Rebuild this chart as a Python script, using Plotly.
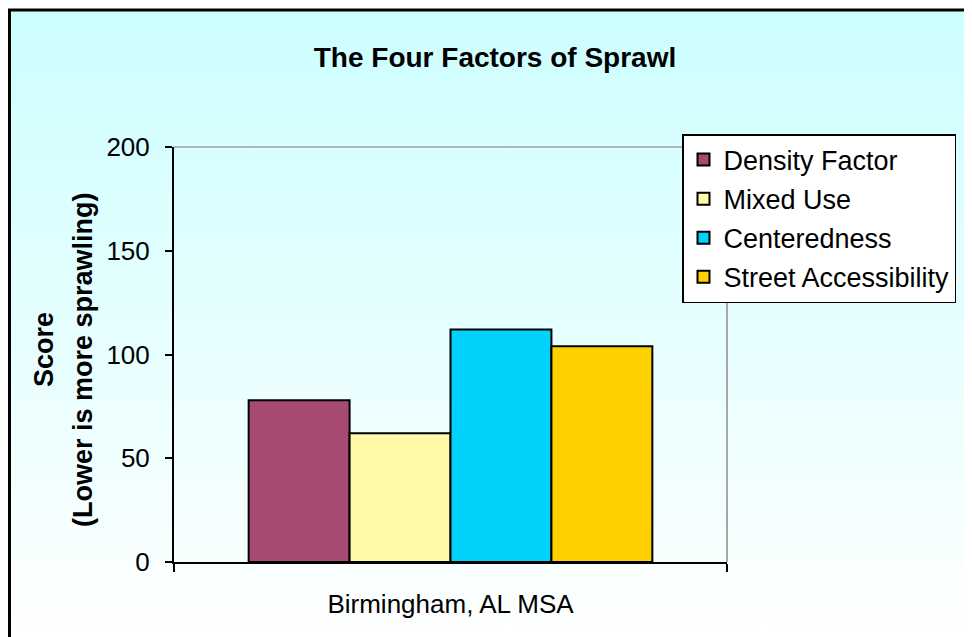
import base64
import plotly.graph_objects as go

# ---- data ----
categories = ["Birmingham, AL MSA"]
series_names = ["Density Factor", "Mixed Use", "Centeredness", "Street Accessibility"]
density_factor = [78]
mixed_use = [62]
centeredness = [112]
street_accessibility = [104]
y_ticks = [0, 50, 100, 150, 200]

series_values = [density_factor, mixed_use, centeredness, street_accessibility]
colors = ["#a64a74", "#fffaa6", "#00d2fc", "#ffd000"]

# the page body adds an 8px margin, so the figure is drawn 8px in from the window edge
OX, OY = 8, 8
W, H = 972 - OX, 637 - OY
L, T = 174 - OX, 147 - OY
R, B = 245, 75
PW, PH = W - L - R, H - T - B


def px_x(px):  # window pixel -> paper x
    return (px - OX - L) / PW


def px_y(py):  # window pixel -> paper y
    return (H - B - (py - OY)) / PH


FONT = "Arial, 'Liberation Sans', sans-serif"

fig = go.Figure()
for i, (name, vals) in enumerate(zip(series_names, series_values)):
    fig.add_trace(go.Bar(
        x=categories, y=vals, name=name, legendgroup=name,
        marker=dict(color=colors[i], line=dict(color="#000000", width=2)),
    ))

# gradient background image (style only)
svg = ('<svg xmlns="http://www.w3.org/2000/svg" width="100" height="100" preserveAspectRatio="none">'
       '<defs><linearGradient id="g" x1="0" y1="0" x2="0" y2="1">'
       '<stop offset="0" stop-color="#ccfeff"/><stop offset="1" stop-color="#ffffff"/>'
       '</linearGradient></defs><rect width="100" height="100" fill="url(#g)"/></svg>')
src = "data:image/svg+xml;base64," + base64.b64encode(svg.encode()).decode()

fig.add_layout_image(dict(
    source=src, xref="paper", yref="paper",
    x=px_x(8), y=px_y(9), sizex=(972 - 8) / PW, sizey=(637 - 9) / PH,
    xanchor="left", yanchor="top", sizing="stretch", layer="below",
))

shapes = [
    # outer frame (extends past right / bottom edge)
    dict(type="rect", xref="paper", yref="paper", x0=px_x(9.5), x1=px_x(1000),
         y0=px_y(680), y1=px_y(10), line=dict(color="#000000", width=3),
         fillcolor="rgba(0,0,0,0)", layer="above"),
    # plot-area top and right border (grey)
    dict(type="line", xref="paper", yref="paper", x0=0, x1=1, y0=1, y1=1,
         line=dict(color="#a0a0a0", width=1.5), layer="below"),
    dict(type="line", xref="paper", yref="paper", x0=1, x1=1, y0=0, y1=1,
         line=dict(color="#a8a8a8", width=2), layer="below"),
]

annotations = [
    dict(text="<b>Score</b>", xref="paper", yref="paper", x=px_x(44), y=px_y(350),
         textangle=-90, showarrow=False, xanchor="center", yanchor="middle",
         font=dict(family=FONT, size=27, color="#000000")),
    dict(text="<b>(Lower is more sprawling)</b>", xref="paper", yref="paper",
         x=px_x(83), y=px_y(360), textangle=-90, showarrow=False,
         xanchor="center", yanchor="middle",
         font=dict(family=FONT, size=27, color="#000000")),
]

fig.update_layout(
    width=W, height=H,
    margin=dict(l=L, r=R, t=T, b=B, pad=0),
    paper_bgcolor="#ffffff",
    plot_bgcolor="rgba(0,0,0,0)",
    barmode="group", bargap=0.27, bargroupgap=0,
    title=dict(text="<b>The Four Factors of Sprawl</b>", x=(495 - OX) / W, xref="container",
               y=1 - (57 - OY) / H, yref="container", xanchor="center", yanchor="middle",
               font=dict(family=FONT, size=28, color="#000000")),
    font=dict(family=FONT, size=26, color="#000000"),
    showlegend=True,
    legend=dict(x=px_x(682), y=px_y(134), xanchor="left", yanchor="top",
                bgcolor="#ffffff", bordercolor="#000000", borderwidth=1.5,
                font=dict(family=FONT, size=27, color="#000000"),
                traceorder="grouped", tracegroupgap=1, itemclick=False),
    shapes=shapes,
    annotations=annotations,
    xaxis=dict(type="category", range=[-0.5, 0.5], showline=True, linecolor="#000000",
               linewidth=2, ticks="outside", tickson="boundaries", ticklen=8,
               tickwidth=2, tickcolor="#000000", showgrid=False, zeroline=False,
               ticklabelstandoff=18, tickfont=dict(size=26)),
    yaxis=dict(range=[0, 200], tickvals=y_ticks, showline=True, linecolor="#000000",
               linewidth=2, ticks="outside", ticklen=7, tickwidth=2, tickcolor="#000000",
               showgrid=False, zeroline=False, ticklabelstandoff=10,
               tickfont=dict(size=26)),
)

fig.write_html("out.html")
